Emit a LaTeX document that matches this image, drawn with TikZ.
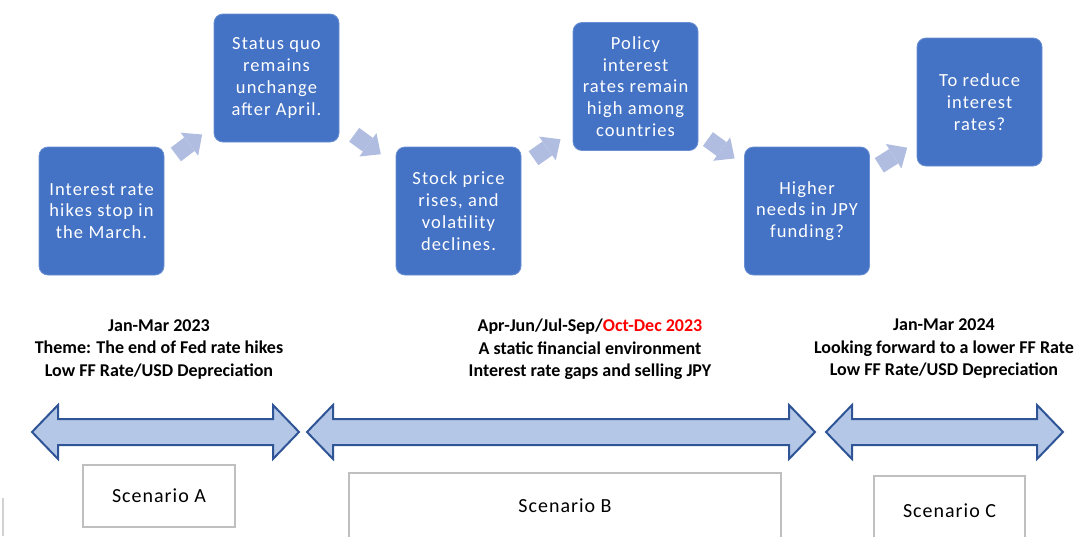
\documentclass[tikz,border=0pt]{standalone}
\usepackage{fontspec}
\setmainfont{Carlito}
\newfontfamily\stepfont[LetterSpace=6]{Carlito}
\newfontfamily\scenfont[LetterSpace=5]{Carlito}
\usetikzlibrary{positioning, arrows.meta, calc}
\definecolor{stepblue}{HTML}{4472C4}
\definecolor{stepedge}{HTML}{6A8FD3}
\definecolor{chevblue}{HTML}{B0BDE0}
\definecolor{spanfill}{HTML}{B4C7E7}
\definecolor{spanedge}{HTML}{2F5597}
\definecolor{scenedge}{HTML}{BFBFBF}

\begin{document}
\begin{tikzpicture}[
        x=1pt, y=-1pt,
        stepbox/.style={rectangle, rounded corners=9pt, fill=stepblue, draw=stepedge, line width=0.8pt, minimum width=125pt, minimum height=128pt, inner sep=0pt, align=center, text=white, font=\stepfont\fontsize{18.5}{21.8}\selectfont},
        chev/.style={draw=chevblue, line width=17pt, -{Triangle[length=16pt, width=29pt, line width=0pt]}},
        period/.style={align=center, font=\bfseries\fontsize{18}{22.5}\selectfont},
        span/.style={fill=spanfill, draw=spanedge, line width=2pt, line join=miter},
        scenbox/.style={rectangle, draw=scenedge, line width=1.5pt, inner sep=0pt, font=\scenfont\fontsize{20}{24}\selectfont}
    ]
        \useasboundingbox (0,0) rectangle (1077,536);

        % Steps
        \node[stepbox] (b1) at (101.5,211) {Interest rate\\hikes stop in\\the March.};
        \node[stepbox] (b2) at (276.5,78) {Status quo\\remains\\unchange\\after April.};
        \node[stepbox] (b3) at (458.5,211) {Stock price\\rises, and\\volatility\\declines.};
        \node[stepbox] (b4) at (635.5,86.5) {Policy\\interest\\rates remain\\high among\\countries};
        \node[stepbox] (b5) at (807,211) {Higher\\needs in JPY\\funding?};
        \node[stepbox] (b6) at (979.5,102) {To reduce\\interest\\rates?};

        % Arrows between steps
        \foreach \a/\b in {b1/b2, b2/b3, b3/b4, b4/b5, b5/b6}
            \draw[chev] ($(\a)!0.5!(\b)!16.5pt!(\a)$) -- ($(\a)!0.5!(\b)!16.5pt!(\b)$);

        % Periods
        \node[period] (lblA) at (159,349.5) {Jan-Mar 2023\\Theme: The end of Fed rate hikes\\Low FF Rate/USD Depreciation};
        \node[period] (lblB) at (590,349.5) {Apr-Jun/Jul-Sep/\textcolor{red}{Oct-Dec 2023}\\A static financial environment\\Interest rate gaps and selling JPY};
        \node[period] (lblC) at (944,349) {Jan-Mar 2024\\Looking forward to a lower FF Rate\\Low FF Rate/USD Depreciation};

        % Time spans
        \foreach \xl/\xr in {32/299, 307/815, 826/1063}
            \draw[span] (\xl,432) -- (\xl+26,405) -- (\xl+26,419) -- (\xr-26,419) -- (\xr-26,405) -- (\xr,432)
                -- (\xr-26,459) -- (\xr-26,445) -- (\xl+26,445) -- (\xl+26,459) -- cycle;

        % Scenarios
        \node[scenbox, minimum width=152pt, minimum height=62pt] (scA) at (159,496) {Scenario A};
        \node[scenbox, minimum width=432pt, minimum height=66pt] (scB) at (565,506) {Scenario B};
        \node[scenbox, minimum width=151pt, minimum height=70pt] (scC) at (949.5,511) {Scenario C};

        \draw[scenedge!70, line width=1.5pt] (3,498) -- (3,536);
    \end{tikzpicture}
\end{document}
